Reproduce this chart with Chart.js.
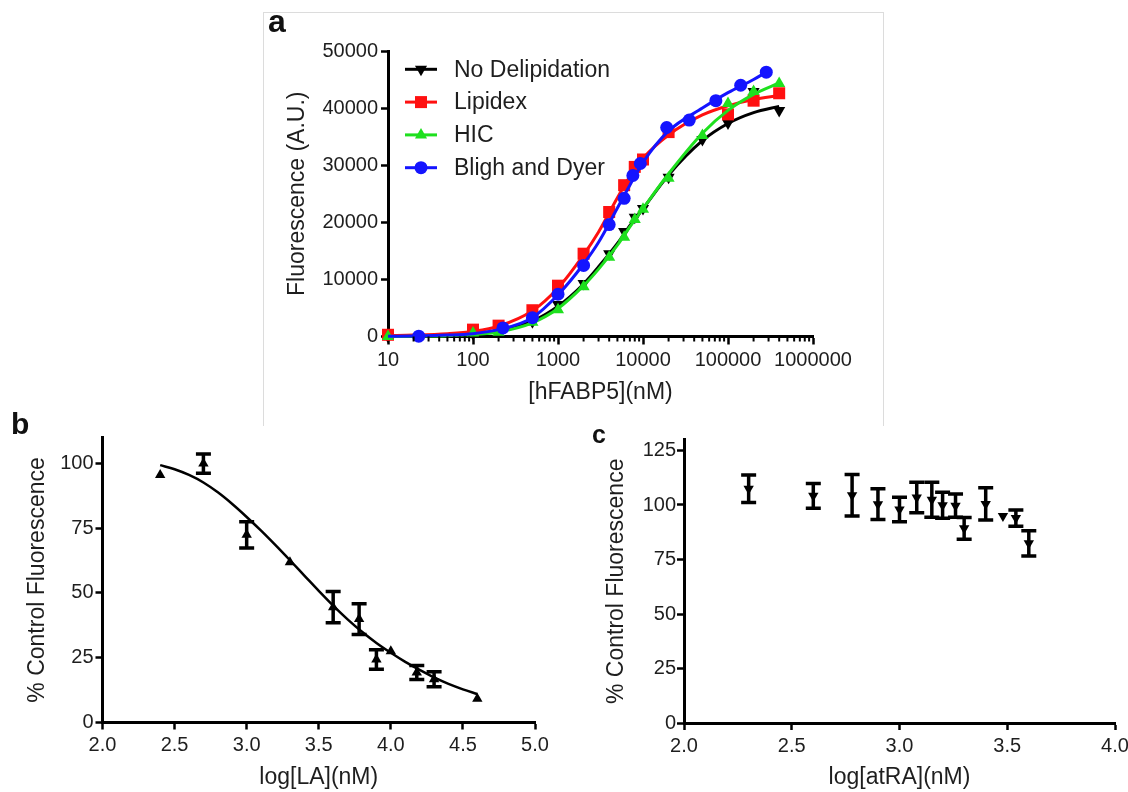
<!DOCTYPE html>
<html>
<head>
<meta charset="utf-8">
<script src="https://cdn.jsdelivr.net/npm/chart.js"></script>
<style>
html,body{margin:0;padding:0;background:#fff;}
body{width:1128px;height:792px;position:relative;overflow:hidden;font-family:'Liberation Sans',Arial,sans-serif;}
.frame{position:absolute;left:263px;top:12px;width:621px;height:414px;border:1px solid #dcdcdc;border-bottom:none;box-sizing:border-box;}
canvas{position:absolute;}
.lbl{position:absolute;font-weight:bold;color:#111;line-height:1;font-family:'Liberation Sans',Arial,sans-serif;}
</style>
</head>
<body>
<div class="frame"></div>
<canvas id="cA" width="620" height="413" style="left:263px;top:12px;"></canvas>
<canvas id="cB" width="560" height="367" style="left:0px;top:425px;"></canvas>
<canvas id="cC" width="568" height="367" style="left:560px;top:425px;"></canvas>
<div class="lbl" style="left:268px;top:5px;font-size:32px;">a</div>
<div class="lbl" style="left:11px;top:409px;font-size:30px;">b</div>
<div class="lbl" style="left:592px;top:422px;font-size:25px;">c</div>
<script>
// ---------------- Panel a data ----------------
const seriesNames = ['No Delipidation', 'Lipidex', 'HIC', 'Bligh and Dyer'];

const xNoDelip = [10, 100, 200, 500, 1000, 2000, 4000, 6000, 8000, 10000, 20000, 50000, 100000, 200000, 400000];
const yNoDelip = [0, 500, 900, 2600, 5600, 9300, 14500, 18400, 20900, 22400, 27900, 34500, 37400, 42900, 39600];

const xLipidex = [10, 100, 200, 500, 1000, 2000, 4000, 6000, 8000, 10000, 20000, 100000, 200000, 400000];
const yLipidex = [300, 1200, 1900, 4600, 8900, 14500, 21800, 26500, 29700, 31000, 35800, 38900, 41300, 42600];

const xHIC = [10, 100, 200, 500, 1000, 2000, 4000, 6000, 8000, 10000, 20000, 50000, 100000, 200000, 400000];
const yHIC = [0, 600, 750, 2500, 4700, 8700, 13900, 17400, 20500, 22300, 27700, 35200, 40800, 42900, 44300];

const xBligh = [23, 225, 500, 1000, 2000, 4000, 6000, 7600, 9300, 19000, 35000, 72000, 141000, 282000];
const yBligh = [50, 1500, 3300, 7400, 12450, 19600, 24200, 28200, 30300, 36600, 37900, 41300, 44000, 46300];

// fitted curves
const curveX = [10, 20, 50, 100, 200, 500, 1000, 2000, 3000, 5000, 7000, 10000, 20000, 50000, 100000, 200000, 400000];
const curveNoDelip = [50, 100, 250, 500, 1000, 2700, 5300, 9200, 12200, 16300, 19400, 22400, 28300, 34300, 37300, 39200, 40300];
const curveLipidex = [150, 250, 500, 900, 1800, 4500, 8500, 14300, 18300, 24300, 28000, 31200, 35300, 38800, 40400, 41500, 42200];
const curveHIC = [0, 50, 150, 350, 800, 2400, 4900, 8900, 11800, 16000, 19200, 22400, 28500, 35600, 39600, 42400, 44400];
const curveBlighX = [10, 20, 50, 100, 200, 500, 1000, 2000, 3000, 5000, 7000, 10000, 20000, 50000, 100000, 200000, 282000];
const curveBligh = [50, 100, 250, 500, 1200, 3300, 7300, 12700, 16500, 22500, 26500, 30500, 36000, 40000, 42700, 45000, 46300];

const xTicksA = [10, 100, 1000, 10000, 100000, 1000000];
const minorMultipliers = [2, 3, 4, 5, 6, 7, 8, 9];
const yTicksA = [0, 10000, 20000, 30000, 40000, 50000];

// ---------------- Panel b data ----------------
const laLogConc = [2.40, 2.70, 3.00, 3.30, 3.60, 3.78, 3.90, 4.00, 4.18, 4.30, 4.60];
const laMean = [95.5, 99.9, 72.4, 61.8, 44.5, 39.9, 24.3, 27.5, 19.3, 16.7, 9.2];
const laErr = [0, 3.7, 5.1, 0, 6.0, 5.9, 3.8, 0, 2.7, 2.9, 0];
const laCurveX = [2.4, 2.5, 2.6, 2.7, 2.8, 2.9, 3.0, 3.1, 3.2, 3.3, 3.4, 3.5, 3.6, 3.7, 3.8, 3.9, 4.0, 4.1, 4.2, 4.3, 4.4, 4.5, 4.6];
const laCurveY = [99.3, 97.7, 95.5, 92.6, 88.8, 84.3, 79.3, 74.0, 68.4, 62.6, 56.7, 50.8, 45.1, 39.8, 35.0, 30.7, 26.9, 23.4, 20.3, 17.4, 14.9, 12.8, 11.0];
const xTicksB = [2.0, 2.5, 3.0, 3.5, 4.0, 4.5, 5.0];
const yTicksB = [0, 25, 50, 75, 100];

// ---------------- Panel c data ----------------
const atraLogConc = [2.30, 2.60, 2.78, 2.90, 3.00, 3.08, 3.15, 3.20, 3.26, 3.30, 3.40, 3.48, 3.54, 3.60];
const atraMean = [107.5, 104.2, 104.5, 100.4, 97.9, 103.4, 102.4, 99.9, 99.7, 89.3, 100.5, 95.0, 94.0, 82.4];
const atraErr = [6.3, 5.7, 9.5, 7.0, 5.6, 7.0, 8.0, 6.0, 5.3, 5.0, 7.4, 0, 3.7, 5.8];
const xTicksC = [2.0, 2.5, 3.0, 3.5, 4.0];
const yTicksC = [0, 25, 50, 75, 100, 125];

// ---------------- helpers ----------------
const FONT = "'Liberation Sans', Arial, sans-serif";
const TXT = '#1e1e1e';
const BLACK = '#000000', RED = '#ff1010', GREEN = '#1ee01e', BLUE = '#1414ff';

function pts(xs, ys) { return xs.map((x, i) => ({x: x, y: ys[i]})); }

function scaleDef(c) {
  return {
    type: c.type, min: c.min, max: c.max, position: c.position,
    afterBuildTicks: s => { s.ticks = c.ticks.map(v => ({value: v})); },
    afterFit: s => {
      if (c.position === 'left') { s.width = c.size; s.paddingTop = 0; s.paddingBottom = 0; }
      else { s.height = c.size; s.paddingLeft = 0; s.paddingRight = 0; }
    },
    grid: { display: true, drawOnChartArea: false, drawTicks: true, tickLength: c.tickLen,
            tickWidth: c.tickWidth, tickColor: '#000', color: '#000' },
    border: { display: true, color: '#000', width: c.axisWidth },
    ticks: { autoSkip: false, maxRotation: 0, minRotation: 0, padding: c.tickPad, color: TXT,
             font: { family: FONT, size: c.tickSize }, callback: c.fmt },
    title: { display: true, text: c.title, color: TXT,
             font: { family: FONT, size: c.titleSize, lineHeight: 1 },
             padding: c.position === 'left' ? {top: c.titleOff, bottom: 0} : {top: 0, bottom: c.titleOff} }
  };
}

function drawMarker(ctx, style, x, y, r, color, down) {
  ctx.fillStyle = color;
  ctx.beginPath();
  if (style === 'circle') {
    ctx.arc(x, y, r, 0, Math.PI * 2);
  } else if (style === 'rect') {
    const s = r * Math.SQRT1_2;
    ctx.rect(x - s, y - s, 2 * s, 2 * s);
  } else {
    const d = down ? -1 : 1;
    for (let k = 0; k < 3; k++) {
      const a = k * 2 * Math.PI / 3;
      const px = x + Math.sin(a) * r, py = y - d * Math.cos(a) * r;
      if (k === 0) ctx.moveTo(px, py); else ctx.lineTo(px, py);
    }
    ctx.closePath();
  }
  ctx.fill();
}

const errorBarPlugin = {
  id: 'errorBars',
  beforeDatasetsDraw(chart) {
    const ctx = chart.ctx, ys = chart.scales.y;
    chart.data.datasets.forEach((ds, di) => {
      if (!ds.errorBars) return;
      const meta = chart.getDatasetMeta(di);
      ctx.save();
      ctx.strokeStyle = '#000';
      ctx.lineWidth = 3.5;
      meta.data.forEach((el, i) => {
        const e = ds.errorBars[i];
        if (!e) return;
        const m = ds.data[i].y, x = el.x;
        const y1 = ys.getPixelForValue(m + e), y2 = ys.getPixelForValue(m - e);
        ctx.beginPath();
        ctx.moveTo(x, y1); ctx.lineTo(x, y2);
        ctx.moveTo(x - 7.5, y1); ctx.lineTo(x + 7.5, y1);
        ctx.moveTo(x - 7.5, y2); ctx.lineTo(x + 7.5, y2);
        ctx.stroke();
      });
      ctx.restore();
    });
  }
};

const minorTicksPlugin = {
  id: 'minorTicks',
  afterDraw(chart) {
    const xs = chart.scales.x, ctx = chart.ctx, y0 = chart.chartArea.bottom;
    ctx.save();
    ctx.strokeStyle = '#000';
    ctx.lineWidth = 2;
    for (let i = 0; i < xTicksA.length - 1; i++) {
      minorMultipliers.forEach(m => {
        const px = xs.getPixelForValue(m * xTicksA[i]);
        ctx.beginPath(); ctx.moveTo(px, y0); ctx.lineTo(px, y0 + 5); ctx.stroke();
      });
    }
    ctx.restore();
  }
};

const legendStyles = [
  {style: 'triangle', down: true, color: BLACK, r: 7},
  {style: 'rect', down: false, color: RED, r: 8.5},
  {style: 'triangle', down: false, color: GREEN, r: 7},
  {style: 'circle', down: false, color: BLUE, r: 6.5}
];
const legendPlugin = {
  id: 'legendA',
  afterDraw(chart) {
    const ctx = chart.ctx, ca = chart.chartArea;
    ctx.save();
    seriesNames.forEach((name, i) => {
      const st = legendStyles[i];
      const y = ca.top + 18.3 + 32.8 * i;
      const x0 = ca.left + 17, x1 = ca.left + 49;
      ctx.strokeStyle = st.color; ctx.lineWidth = 3;
      ctx.beginPath(); ctx.moveTo(x0, y); ctx.lineTo(x1, y); ctx.stroke();
      drawMarker(ctx, st.style, (x0 + x1) / 2, y, st.r, st.color, st.down);
      ctx.fillStyle = TXT;
      ctx.font = '23px ' + FONT;
      ctx.textBaseline = 'middle';
      ctx.textAlign = 'left';
      ctx.fillText(name, ca.left + 66, y + 1);
    });
    ctx.restore();
  }
};

function markerSet(label, xs, ys, color, style, r, rot, order) {
  return { label: label, data: pts(xs, ys), showLine: false, pointStyle: style, pointRadius: r,
           pointRotation: rot, pointBackgroundColor: color, pointBorderColor: color, pointBorderWidth: 0,
           clip: false, order: order };
}
function curveSet(xs, ys, color, w, order) {
  return { data: pts(xs, ys), showLine: true, pointRadius: 0, borderColor: color, borderWidth: w,
           cubicInterpolationMode: 'monotone', fill: false, clip: false, order: order };
}

// ---------------- Chart a ----------------
new Chart(document.getElementById('cA'), {
  type: 'scatter',
  data: { datasets: [
    markerSet(seriesNames[3], xBligh, yBligh, BLUE, 'circle', 6.5, 0, 1),
    curveSet(curveBlighX, curveBligh, BLUE, 3, 2),
    markerSet(seriesNames[2], xHIC, yHIC, GREEN, 'triangle', 7, 0, 3),
    curveSet(curveX, curveHIC, GREEN, 3, 4),
    markerSet(seriesNames[1], xLipidex, yLipidex, RED, 'rect', 8.5, 0, 5),
    curveSet(curveX, curveLipidex, RED, 3, 6),
    markerSet(seriesNames[0], xNoDelip, yNoDelip, BLACK, 'triangle', 7, 180, 7),
    curveSet(curveX, curveNoDelip, BLACK, 3, 8)
  ]},
  options: {
    responsive: false, animation: false, events: [],
    layout: { padding: { left: 0, right: 70, top: 39, bottom: 0 } },
    plugins: { legend: { display: false }, tooltip: { enabled: false } },
    scales: {
      x: scaleDef({ type: 'logarithmic', min: 10, max: 1000000, position: 'bottom', ticks: xTicksA,
        size: 88.5, tickLen: 8, tickWidth: 2.5, axisWidth: 3, tickPad: 4, tickSize: 20,
        fmt: v => String(v), title: '[hFABP5](nM)', titleSize: 23, titleOff: 20.5 }),
      y: scaleDef({ type: 'linear', min: 0, max: 50000, position: 'left', ticks: yTicksA,
        size: 125, tickLen: 7, tickWidth: 2.5, axisWidth: 3, tickPad: 3, tickSize: 20,
        fmt: v => String(v), title: 'Fluorescence (A.U.)', titleSize: 23, titleOff: 23.5 })
    }
  },
  plugins: [minorTicksPlugin, legendPlugin]
});

// ---------------- Chart b ----------------
new Chart(document.getElementById('cB'), {
  type: 'scatter',
  data: { datasets: [
    Object.assign(markerSet('LA', laLogConc, laMean, BLACK, 'triangle', 6, 0, 1), { errorBars: laErr }),
    curveSet(laCurveX, laCurveY, BLACK, 2.5, 2)
  ]},
  options: {
    responsive: false, animation: false, events: [],
    layout: { padding: { left: 0, right: 25, top: 12.4, bottom: 0 } },
    plugins: { legend: { display: false }, tooltip: { enabled: false } },
    scales: {
      x: scaleDef({ type: 'linear', min: 2.0, max: 5.0, position: 'bottom', ticks: xTicksB,
        size: 69.5, tickLen: 7, tickWidth: 2.5, axisWidth: 3, tickPad: 4, tickSize: 20,
        fmt: v => Number(v).toFixed(1), title: 'log[LA](nM)', titleSize: 23, titleOff: 2.5 }),
      y: scaleDef({ type: 'linear', min: 0, max: 110, position: 'left', ticks: yTicksB,
        size: 102.5, tickLen: 7, tickWidth: 2.5, axisWidth: 3, tickPad: 2, tickSize: 20,
        fmt: v => String(v), title: '% Control Fluorescence', titleSize: 23, titleOff: 26 })
    }
  },
  plugins: [errorBarPlugin]
});

// ---------------- Chart c ----------------
new Chart(document.getElementById('cC'), {
  type: 'scatter',
  data: { datasets: [
    Object.assign(markerSet('atRA', atraLogConc, atraMean, BLACK, 'triangle', 6, 180, 1), { errorBars: atraErr })
  ]},
  options: {
    responsive: false, animation: false, events: [],
    layout: { padding: { left: 0, right: 13, top: 14.6, bottom: 0 } },
    plugins: { legend: { display: false }, tooltip: { enabled: false } },
    scales: {
      x: scaleDef({ type: 'linear', min: 2.0, max: 4.0, position: 'bottom', ticks: xTicksC,
        size: 69, tickLen: 7, tickWidth: 2.5, axisWidth: 3, tickPad: 4, tickSize: 20,
        fmt: v => Number(v).toFixed(1), title: 'log[atRA](nM)', titleSize: 23, titleOff: 2.5 }),
      y: scaleDef({ type: 'linear', min: 0, max: 130, position: 'left', ticks: yTicksC,
        size: 124, tickLen: 7, tickWidth: 2.5, axisWidth: 3, tickPad: 1, tickSize: 20,
        fmt: v => String(v), title: '% Control Fluorescence', titleSize: 23, titleOff: 45.5 })
    }
  },
  plugins: [errorBarPlugin]
});
</script>
</body>
</html>
